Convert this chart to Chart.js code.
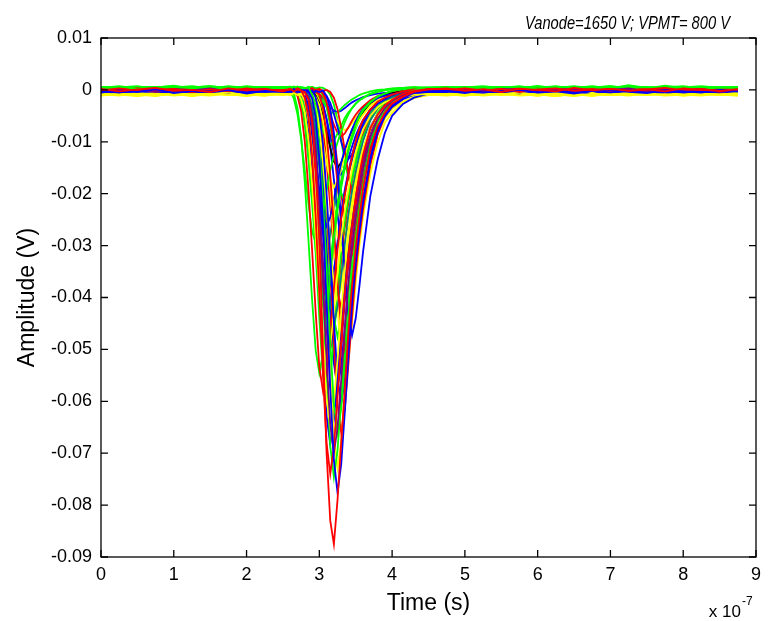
<!DOCTYPE html>
<html>
<head>
<meta charset="utf-8">
<script src="https://cdn.jsdelivr.net/npm/chart.js@4.4.1/dist/chart.umd.min.js"></script>
<style>
  html, body { margin: 0; padding: 0; background: #fff; }
  canvas { display: block; }
</style>
</head>
<body>
<canvas id="c" width="768" height="621"></canvas>
<script>
// Time axis in units of 10^-7 s (shared sampling grid for every trace)
const time = [0,0.25,0.5,0.75,1,1.25,1.5,1.75,2,2.25,2.5,
  2.6,2.65,2.7,2.75,2.8,2.85,2.9,2.95,3,3.05,3.1,3.15,3.2,3.25,3.3,3.35,3.4,3.45,3.5,3.55,3.6,3.7,3.8,3.9,4,4.15,4.3,4.5,
  4.75,5,5.25,5.5,5.75,6,6.25,6.5,6.75,7,7.25,7.5,7.75,8,8.25,8.5,8.75];

const v01 = [.0002,-.0003,.0001,.0004,-.0002,0,-.0004,.0003,-.0001,.0002,-.0003,
  .0002,-.0003,.0001,-.0002,-.0004,-.0018,-.0061,-.0149,-.0289,-.05,-.07,-.083,-.0875,-.079,-.068,-.0578,-.0464,-.0376,-.0306,-.0245,-.0193,-.0114,-.007,-.0044,-.0026,-.0013,-.0004,.0001,
  .0003,-.0002,.0001,-.0004,.0002,0,-.0003,.0004,-.0001,.0002,-.0002,.0001,-.0003,.0003,0,-.0002,.0001];
const v02 = [-.0005,-.0001,-.0004,.0001,-.0006,-.0002,-.0003,0,-.0007,-.0002,-.0004,
  -.0004,.0001,-.0005,-.0002,0,-.0003,-.0016,-.0054,-.0132,-.0256,-.0411,-.0574,-.0714,-.0776,-.0722,-.0621,-.0512,-.0411,-.0334,-.0272,-.0217,-.0132,-.0078,-.005,-.0031,-.0016,-.0006,-.0003,
  -.0002,-.0006,-.0001,-.0004,0,-.0005,-.0003,-.0007,-.0002,.0001,-.0004,-.0006,-.0001,-.0003,-.0005,0,-.0003];
const v03 = [-.0001,.0003,-.0002,0,.0002,-.0004,.0001,-.0002,.0003,-.0001,0,
  .0001,-.0002,.0003,-.0001,-.0015,-.0052,-.0126,-.0244,-.0392,-.0548,-.0681,-.074,-.0688,-.0592,-.0488,-.0392,-.0318,-.0259,-.0207,-.0163,-.0126,-.0074,-.0048,-.003,-.0019,-.0007,-.0002,.0002,
  0,.0003,-.0001,.0002,-.0004,.0001,.0003,-.0002,0,.0002,-.0003,.0001,.0004,-.0001,.0002,-.0002,0];
const v04 = [.0001,-.0002,0,-.0004,.0002,-.0001,.0003,-.0003,0,.0001,-.0002,
  -.0002,.0002,-.0003,0,-.0004,-.0014,-.0049,-.0119,-.0231,-.0371,-.0518,-.0644,-.07,-.0651,-.056,-.0462,-.0371,-.0301,-.0245,-.0196,-.0154,-.0091,-.0056,-.0035,-.0021,-.001,-.0004,-.0001,
  -.0002,.0001,-.0003,.0002,0,-.0004,.0001,.0002,-.0002,0,.0003,-.0003,.0001,-.0001,.0002,-.0004,0];
const v05 = [.0004,.0006,.0002,.0005,.0008,.0003,.0005,.0001,.0006,.0004,.0003,
  .0005,.0003,.0006,.0004,.0002,.0005,-.0009,-.0042,-.0108,-.0214,-.035,-.0488,-.0607,-.066,-.0614,-.0528,-.0436,-.035,-.0284,-.0231,-.0185,-.0108,-.0062,-.0039,-.0022,-.0009,-.0001,.0004,
  .0005,.0003,.0006,.0004,.0007,.0002,.0005,.0004,.0006,.0003,.0009,.0004,.0005,.0002,.0006,.0004,.0005];
const v06 = [-.0008,-.0011,-.0006,-.0009,-.0007,-.0012,-.0008,-.0005,-.001,-.0008,-.0006,
  -.0009,-.0006,-.001,-.0007,-.0021,-.0053,-.0117,-.0219,-.0347,-.0482,-.0597,-.0648,-.0603,-.052,-.043,-.0347,-.0283,-.0232,-.0187,-.0149,-.0117,-.0072,-.005,-.0034,-.0024,-.0014,-.0009,-.0008,
  -.0009,-.0007,-.0011,-.0008,-.0005,-.001,-.0008,-.0012,-.0007,-.0009,-.0006,-.001,-.0008,-.0011,-.0007,-.0009,-.0008];
const v07 = [-.0002,-.0005,0,-.0003,-.0006,-.0001,-.0004,-.0002,-.0005,0,-.0003,
  -.0003,-.0006,0,-.0004,-.0002,-.0005,-.0001,-.0015,-.0045,-.0105,-.0201,-.0321,-.0447,-.0555,-.0603,-.0561,-.0483,-.0399,-.0321,-.0261,-.0213,-.0135,-.0081,-.0051,-.0033,-.0018,-.0009,-.0004,
  -.0004,-.0001,-.0005,-.0002,-.0006,-.0003,0,-.0004,-.0002,-.0005,-.0001,-.0003,-.0006,-.0002,-.0004,-.0001,-.0003];
const v08 = [0,-.0002,.0003,-.0001,.0001,-.0003,.0002,0,-.0002,.0001,.0002,
  -.0001,.0002,-.0012,-.0041,-.0099,-.0191,-.0307,-.0429,-.0534,-.058,-.0539,-.0464,-.0383,-.0307,-.0249,-.0203,-.0162,-.0128,-.0099,-.0075,-.0058,-.0038,-.0023,-.0015,-.0009,-.0003,.0001,-.0002,
  -.0001,.0002,-.0003,0,.0003,-.0002,.0001,-.0001,.0002,-.0004,0,.0002,-.0001,.0001,-.0003,.0002,0];
const v09 = [.0003,.0005,.0007,.0002,.0004,.0006,.0003,.0005,.0002,.0006,.0004,
  .0003,-.0007,-.0035,-.009,-.0178,-.0288,-.0403,-.0502,-.0546,-.0508,-.0436,-.0359,-.0288,-.0233,-.0189,-.015,-.0117,-.009,-.0068,-.0051,-.004,-.0024,-.0013,-.0007,-.0002,.0002,.0005,.0004,
  .0006,.0003,.0005,.0002,.0004,.0007,.0003,.0005,.0004,.0006,.0002,.0005,.0003,.0006,.0004,.0002,.0005];
const v10 = [-.001,-.0007,-.0009,-.0006,-.0011,-.0008,-.0007,-.001,-.0006,-.0009,-.0008,
  -.0007,-.001,-.0006,-.0018,-.0044,-.0096,-.018,-.0284,-.0393,-.0486,-.0528,-.0492,-.0424,-.0351,-.0284,-.0232,-.019,-.0154,-.0122,-.0096,-.0076,-.005,-.0034,-.0024,-.0018,-.0012,-.0009,-.0007,
  -.0006,-.001,-.0008,-.0007,-.0011,-.0009,-.0006,-.0008,-.001,-.0007,-.0009,-.0005,-.0008,-.001,-.0007,-.0009,-.0006];
const v11 = [-.0003,-.0006,-.0002,-.0004,-.0001,-.0005,-.0003,-.0007,-.0002,-.0004,-.0003,
  -.0004,-.0001,-.0006,-.0002,-.0003,0,-.0005,-.0002,-.0004,-.0001,-.0012,-.0036,-.0083,-.0158,-.0252,-.0351,-.0435,-.0473,-.044,-.0379,-.0313,-.0205,-.0135,-.0083,-.005,-.0027,-.0015,-.0007,
  -.0005,-.0003,-.0006,-.0002,-.0004,-.0001,-.0005,-.0003,-.0008,-.0002,-.0004,-.0003,-.0006,-.0001,-.0004,-.0005,-.0002];
const v12 = [-.0002,.0001,.0003,-.0001,0,.0002,-.0003,.0001,-.0001,.0003,0,
  .0001,-.0002,.0002,-.0003,0,-.0001,.0003,-.0002,-.001,-.0035,-.0085,-.0165,-.0265,-.037,-.046,-.05,-.0465,-.04,-.033,-.0265,-.0215,-.014,-.0085,-.005,-.0033,-.0015,-.0008,-.0002,
  .0001,-.0003,.0002,0,-.0002,.0003,-.0001,0,.0002,-.0003,.0001,.0003,-.0002,0,.0001,-.0001,.0002];
const v13 = [0,.0002,-.0002,.0001,-.0003,0,.0002,-.0001,.0001,-.0002,.0001,
  -.0001,.0002,-.0002,.0001,-.0003,-.0009,-.0032,-.0077,-.0149,-.0239,-.0333,-.0414,-.045,-.0419,-.036,-.0297,-.0239,-.0194,-.0158,-.0126,-.0099,-.0059,-.0036,-.0023,-.0014,-.0007,-.0002,0,
  .0002,-.0001,0,.0003,-.0002,.0001,-.0003,0,.0002,-.0001,0,-.0002,.0003,.0001,-.0001,0,.0002];
const v14 = [.0006,.0003,.0005,.0004,.0002,.0006,.0005,.0003,.0007,.0004,.0005,
  .0005,.0003,-.0004,-.0025,-.0067,-.0135,-.0219,-.0307,-.0382,-.0416,-.0387,-.0332,-.0273,-.0219,-.0177,-.0143,-.0114,-.0088,-.0067,-.0051,-.0038,-.0023,-.0013,-.0007,-.0002,.0002,.0004,.0005,
  .0003,.0006,.0004,.0005,.0002,.0006,.0004,.0003,.0005,.0007,.0004,.0002,.0006,.0003,.0005,.0004,.0006];
const v15 = [-.0007,-.0009,-.0012,-.0008,-.0006,-.001,-.0007,-.0009,-.0011,-.0006,-.0008,
  -.0009,-.0006,-.001,-.0007,-.0009,-.0005,-.0016,-.0036,-.0076,-.014,-.022,-.0304,-.0376,-.0408,-.038,-.0328,-.0272,-.022,-.018,-.0148,-.012,-.0076,-.0048,-.0034,-.0024,-.0016,-.0011,-.0008,
  -.0008,-.0011,-.0007,-.0009,-.0006,-.0008,-.0012,-.0007,-.0009,-.0008,-.0011,-.0007,-.0006,-.0009,-.0008,-.001,-.0007];
const v16 = [-.0004,-.0001,-.0005,-.0003,0,-.0004,-.0006,-.0002,-.0003,-.0005,-.0001,
  -.0002,-.0005,-.0001,-.0004,-.001,-.0029,-.0066,-.0125,-.0199,-.0277,-.0343,-.0373,-.0347,-.0299,-.0247,-.0199,-.0162,-.0133,-.0107,-.0084,-.0066,-.004,-.0027,-.0018,-.0012,-.0007,-.0004,-.0003,
  -.0003,-.0005,-.0002,-.0004,-.0007,-.0001,-.0003,-.0005,-.0002,-.0004,-.0003,-.0006,-.0002,-.0005,-.0003,-.0001,-.0004];
const v17 = [.0001,.0003,-.0002,0,.0002,-.0001,-.0003,.0001,.0002,-.0002,0,
  .0002,-.0001,.0003,-.0002,0,.0002,-.0003,.0001,-.0001,-.0007,-.0024,-.0058,-.0112,-.018,-.0252,-.0313,-.034,-.0316,-.0272,-.0224,-.018,-.0119,-.0075,-.0044,-.0027,-.0014,-.0007,-.0002,
  -.0004,-.0001,.0001,-.0002,0,.0002,-.0003,.0001,0,-.0002,.0003,-.0001,0,.0002,-.0002,.0001,-.0001];
const v18 = [.0005,.0002,.0006,.0004,.0003,.0005,.0007,.0004,.0002,.0005,.0003,
  -.0002,-.0017,-.0047,-.0095,-.0155,-.0218,-.0272,-.0296,-.0275,-.0236,-.0194,-.0155,-.0125,-.0101,-.008,-.0062,-.0047,-.0035,-.0026,-.002,-.0016,-.0008,-.0004,-.0001,.0002,.0004,.0005,.0003,
  .0004,.0006,.0003,.0005,.0004,.0002,.0006,.0005,.0003,.0004,.0006,.0003,.0008,.0004,.0005,.0003,.0004];
const v19 = [-.0009,-.0006,-.0008,-.001,-.0007,-.0009,-.0011,-.0006,-.0008,-.0007,-.001,
  -.0007,-.001,-.0006,-.0009,-.0011,-.0007,-.0008,-.0014,-.0029,-.0059,-.0107,-.0167,-.023,-.0284,-.0308,-.0287,-.0248,-.0206,-.0167,-.0137,-.0113,-.0074,-.0047,-.0032,-.0023,-.0016,-.0011,-.0008,
  -.001,-.0007,-.0009,-.0006,-.0008,-.0011,-.0007,-.0009,-.0006,-.001,-.0008,-.0009,-.0007,-.0005,-.0009,-.0008,-.001];
const v20 = [-.0001,-.0004,-.0002,-.0006,-.0003,-.0001,-.0005,-.0002,-.0004,-.0003,-.0005,
  -.0003,-.0006,-.0002,-.0008,-.0021,-.0047,-.0089,-.0141,-.0195,-.0242,-.0263,-.0245,-.0211,-.0175,-.0141,-.0115,-.0094,-.0076,-.006,-.0047,-.0037,-.0024,-.0016,-.0011,-.0008,-.0005,-.0003,-.0004,
  -.0006,-.0002,-.0004,-.0003,-.0001,-.0005,-.0002,-.0004,-.0006,-.0003,-.0002,-.0005,-.0004,-.0007,-.0003,-.0002,-.0004];
const v21 = [-.0003,0,.0002,-.0001,.0003,-.0002,.0001,0,-.0003,.0002,-.0001,
  .0001,-.0002,.0002,0,-.0003,.0001,.0003,-.0001,.0002,-.0002,0,-.0004,-.0015,-.0037,-.0073,-.0117,-.0163,-.0202,-.022,-.0205,-.0176,-.0117,-.0077,-.0048,-.0029,-.0014,-.0007,-.0002,
  0,.0002,-.0002,.0001,-.0003,.0003,0,-.0001,.0002,-.0002,0,.0001,-.0003,.0002,0,.0003,-.0001];
const v22 = [.0004,.0007,.0003,.0005,.0002,.0004,.0006,.0003,.0005,.0004,.0006,
  .0004,.0006,.0003,.0005,.0002,.0006,.0004,.0003,0,-.0011,-.0033,-.0069,-.0113,-.0159,-.0198,-.0216,-.0201,-.0172,-.0141,-.0113,-.0091,-.0058,-.0033,-.0018,-.001,-.0003,.0001,.0004,
  .0005,.0004,.0002,.0006,.0003,.0005,.0004,.0007,.0003,.0005,.0004,.0006,.0002,.0005,.0003,.0006,.0004];
const v23 = [-.0006,-.0009,-.0007,-.0011,-.0008,-.0006,-.0009,-.0008,-.0012,-.0007,-.0009,
  -.0008,-.0011,-.0007,-.001,-.0006,-.0012,-.0021,-.0039,-.0067,-.0103,-.0141,-.0174,-.0188,-.0175,-.0152,-.0127,-.0103,-.0085,-.0071,-.0058,-.0048,-.0031,-.0022,-.0017,-.0013,-.0011,-.0008,-.0009,
  -.0007,-.0009,-.0006,-.0008,-.001,-.0007,-.0009,-.0011,-.0008,-.0006,-.0009,-.0007,-.001,-.0008,-.0006,-.0009,-.0007];
const v24 = [.0001,-.0001,.0002,-.0003,0,.0001,-.0002,.0002,-.0001,0,-.0002,
  -.0002,.0001,-.0001,.0002,-.0003,0,-.0003,-.0011,-.0026,-.005,-.008,-.0111,-.0138,-.015,-.014,-.012,-.0099,-.008,-.0065,-.0053,-.0042,-.0026,-.0015,-.001,-.0006,-.0003,0,.0001,
  .0001,-.0002,0,.0002,-.0001,-.0003,.0001,0,-.0002,.0002,-.0001,0,.0001,-.0002,0,.0001,-.0001];
const v25 = [-.0006,-.0002,-.0004,-.0001,-.0005,-.0003,-.0002,-.0006,-.0001,-.0004,-.0003,
  -.0004,-.0001,-.0005,-.0002,-.0003,-.0006,-.0001,-.0004,-.0002,-.0006,-.0012,-.0025,-.0046,-.0072,-.0099,-.0123,-.0133,-.0124,-.0107,-.0089,-.0072,-.0049,-.0032,-.002,-.0013,-.0008,-.0006,-.0003,
  -.0002,-.0004,-.0006,-.0003,-.0001,-.0005,-.0004,-.0002,-.0006,-.0003,-.0005,-.0002,-.0004,-.0001,-.0006,-.0003,-.0002];
const v26 = [.0003,.0006,.0004,.0002,.0005,.0007,.0003,.0004,.0006,.0002,.0004,
  .0005,.0003,.0006,.0004,.0002,-.0004,-.0015,-.0032,-.0054,-.0077,-.0097,-.0106,-.0098,-.0084,-.0069,-.0054,-.0043,-.0035,-.0027,-.002,-.0015,-.0007,-.0003,0,.0001,.0004,.0005,.0003,
  .0004,.0002,.0005,.0006,.0003,.0004,.0007,.0002,.0005,.0003,.0006,.0004,.0003,.0005,.0007,.0004,.0003];
const v27 = [.0002,-.0001,0,.0003,-.0002,.0001,-.0001,.0002,0,-.0003,.0001,
  .0002,-.0001,.0001,-.0003,.0002,0,-.0002,-.0004,-.0008,-.0015,-.003,-.0048,-.0067,-.0083,-.009,-.0084,-.0072,-.0059,-.0048,-.0039,-.0032,-.002,-.0012,-.0007,-.0005,-.0002,.0001,-.0001,
  -.0002,0,.0003,-.0001,.0001,-.0002,.0002,0,-.0003,.0001,.0002,-.0001,0,-.0002,.0003,-.0001,0];
const v28 = [-.0011,-.0008,-.0006,-.0009,-.0007,-.001,-.0008,-.0006,-.0009,-.0011,-.0007,
  -.0009,-.0007,-.001,-.0006,-.0008,-.0011,-.0007,-.0009,-.0009,-.0013,-.002,-.0031,-.0045,-.006,-.0072,-.0078,-.0073,-.0064,-.0054,-.0045,-.0038,-.0028,-.002,-.0015,-.0013,-.001,-.0008,-.0009,
  -.0008,-.0006,-.001,-.0007,-.0009,-.0008,-.0011,-.0006,-.0008,-.0009,-.0007,-.001,-.0006,-.0009,-.0011,-.0007,-.0008];
const v29 = [.0005,.0003,.0006,.0004,.0002,.0005,.0003,.0006,.0004,.0005,.0003,
  .0004,.0006,.0003,.0005,.0004,.0003,0,-.0005,-.0013,-.0023,-.0033,-.0042,-.0046,-.0043,-.0036,-.0029,-.0023,-.0018,-.0014,-.001,-.0007,-.0003,0,.0001,.0003,.0004,.0005,.0004,
  .0003,.0005,.0004,.0006,.0002,.0004,.0005,.0003,.0006,.0004,.0002,.0005,.0004,.0006,.0003,.0005,.0004];
const v30 = [-.0002,-.0005,-.0003,-.0001,-.0004,-.0006,-.0002,-.0003,-.0005,-.0001,-.0004,
  -.0003,-.0005,-.0002,-.0004,-.0001,-.0003,-.0004,-.0006,-.001,-.0016,-.0024,-.0033,-.004,-.0043,-.004,-.0035,-.0029,-.0024,-.002,-.0017,-.0014,-.001,-.0007,-.0006,-.0005,-.0004,-.0003,-.0003,
  -.0004,-.0002,-.0005,-.0001,-.0003,-.0006,-.0002,-.0004,-.0003,-.0005,-.0002,-.0004,-.0006,-.0001,-.0003,-.0005,-.0002];
const v31 = [.0004,.0006,.0003,.0005,.0007,.0002,.0004,.0006,.0003,.0005,.0004,
  .0005,.0002,.0006,.0003,.0004,-.0011,-.0049,-.0124,-.0244,-.0394,-.0551,-.0686,-.0746,-.0694,-.0596,-.0491,-.0394,-.0319,-.0259,-.0206,-.0161,-.0094,-.0056,-.0034,-.0019,-.0007,0,.0004,
  .0006,.0004,.0002,.0005,.0003,.0007,.0004,.0005,.0002,.0006,.0004,.0003,.0005,.0007,.0003,.0004,.0006];
const v32 = [-.001,-.0007,-.0009,-.0012,-.0006,-.0008,-.001,-.0007,-.0011,-.0008,-.0009,
  -.0007,-.001,-.0006,-.0009,-.0008,-.0011,-.0022,-.0058,-.013,-.0246,-.039,-.0541,-.067,-.0728,-.0678,-.0584,-.0483,-.039,-.0318,-.026,-.021,-.013,-.008,-.0055,-.0037,-.0022,-.0014,-.0009,
  -.0011,-.0008,-.0006,-.001,-.0007,-.0009,-.0012,-.0008,-.0006,-.001,-.0008,-.0007,-.0011,-.0009,-.0006,-.0008,-.001];
const v33 = [-.0005,-.0002,-.0006,-.0003,-.0001,-.0004,-.0007,-.0002,-.0004,-.0005,-.0001,
  -.0005,-.0001,-.0004,-.0002,-.0017,-.0051,-.0119,-.0227,-.0363,-.0506,-.0629,-.0683,-.0635,-.0547,-.0452,-.0363,-.0295,-.0241,-.0193,-.0153,-.0119,-.0071,-.0047,-.003,-.002,-.001,-.0005,-.0003,
  -.0003,-.0006,-.0002,-.0005,-.0001,-.0004,-.0006,-.0003,-.0002,-.0007,-.0003,-.0001,-.0005,-.0002,-.0004,-.0006,-.0003];
const v34 = [-.0002,.0002,0,-.0003,.0001,.0003,-.0001,0,.0002,-.0002,.0001,
  .0001,-.0002,.0002,-.0001,0,.0003,-.0002,-.0013,-.0046,-.0112,-.0218,-.035,-.0488,-.0607,-.066,-.0614,-.0528,-.0436,-.035,-.0284,-.0231,-.0145,-.0086,-.0053,-.0033,-.0017,-.0007,-.0001,
  .0002,-.0001,0,-.0003,.0002,.0001,-.0002,.0003,-.0001,0,.0002,-.0002,.0001,-.0003,0,.0002,-.0001];
const v35 = [0,-.0002,.0002,-.0001,.0001,-.0003,0,.0002,-.0002,.0001,0,
  -.0001,.0002,-.0002,.0001,-.0003,-.0012,-.0043,-.0105,-.0205,-.0329,-.0459,-.057,-.062,-.0577,-.0496,-.0409,-.0329,-.0267,-.0217,-.0174,-.0136,-.0081,-.005,-.0031,-.0019,-.0009,-.0003,.0001,
  -.0001,.0002,-.0002,0,.0001,-.0003,.0002,-.0001,0,.0003,-.0002,.0001,-.0001,0,.0002,-.0002,0];
const v36 = [.0003,.0005,.0002,.0006,.0004,.0005,.0003,.0007,.0004,.0002,.0005,
  .0005,.0003,.0006,-.0008,-.0038,-.0098,-.0194,-.0314,-.044,-.0548,-.0596,-.0554,-.0476,-.0392,-.0314,-.0254,-.0206,-.0164,-.0128,-.0098,-.0074,-.0044,-.0026,-.0014,-.0008,-.0001,.0003,.0004,
  .0005,.0003,.0006,.0002,.0004,.0005,.0003,.0006,.0004,.0007,.0002,.0004,.0005,.0003,.0006,.0004,.0002];
const v37 = [-.0003,-.0001,-.0005,-.0002,-.0006,-.0003,-.0004,-.0001,-.0005,-.0003,-.0002,
  -.0002,-.0005,-.0001,-.0004,-.0003,-.0006,-.0014,-.0043,-.01,-.0191,-.0305,-.0425,-.0527,-.0573,-.0533,-.0459,-.0379,-.0305,-.0248,-.0203,-.0163,-.01,-.006,-.004,-.0026,-.0014,-.0008,-.0004,
  -.0005,-.0002,-.0004,-.0006,-.0003,-.0001,-.0004,-.0005,-.0002,-.0003,-.0006,-.0004,-.0002,-.0005,-.0001,-.0003,-.0004];
const v38 = [-.0008,-.0006,-.001,-.0009,-.0007,-.0011,-.0008,-.0006,-.0009,-.001,-.0007,
  -.0009,-.0006,-.001,-.0007,-.0009,-.0006,-.0011,-.0008,-.0019,-.0047,-.0102,-.019,-.03,-.0415,-.0514,-.0558,-.052,-.0448,-.0371,-.03,-.0245,-.0162,-.0102,-.0063,-.0044,-.0025,-.0016,-.001,
  -.0009,-.0011,-.0007,-.0008,-.001,-.0006,-.0009,-.0008,-.0012,-.0007,-.0009,-.0006,-.0008,-.001,-.0007,-.0009,-.0011];
const v39 = [.0001,-.0003,.0002,0,-.0001,.0003,-.0002,.0001,0,-.0003,.0002,
  .0002,-.0001,.0001,-.0003,-.001,-.0035,-.0085,-.0165,-.0265,-.037,-.046,-.05,-.0465,-.04,-.033,-.0265,-.0215,-.0175,-.014,-.011,-.0085,-.005,-.0033,-.002,-.0013,-.0005,-.0002,.0001,
  0,-.0002,.0003,-.0001,.0001,0,-.0003,.0002,-.0001,.0001,-.0002,.0003,0,-.0001,.0002,-.0003,.0001];
const v40 = [.0005,.0003,.0006,.0004,.0002,.0005,.0007,.0003,.0004,.0006,.0003,
  .0004,.0006,.0003,.0005,.0002,.0005,-.0006,-.003,-.0078,-.0154,-.025,-.0351,-.0438,-.0476,-.0442,-.038,-.0313,-.025,-.0202,-.0164,-.013,-.0078,-.0044,-.0027,-.0015,-.0006,0,.0003,
  .0004,.0006,.0003,.0005,.0004,.0002,.0006,.0004,.0005,.0003,.0007,.0004,.0002,.0005,.0006,.0003,.0004];
const v41 = [-.0002,-.0004,-.0001,-.0005,-.0003,-.0006,-.0002,-.0004,-.0003,-.0001,-.0005,
  -.0004,-.0001,-.0005,-.0012,-.0034,-.0078,-.0148,-.0236,-.0329,-.0408,-.0443,-.0412,-.0355,-.0293,-.0236,-.0192,-.0157,-.0126,-.01,-.0078,-.006,-.0038,-.0025,-.0016,-.0012,-.0007,-.0004,-.0003,
  -.0004,-.0002,-.0005,-.0003,-.0006,-.0002,-.0001,-.0004,-.0003,-.0005,-.0002,-.0006,-.0003,-.0004,-.0002,-.0005,-.0003];
const v42 = [.0003,0,-.0002,.0001,-.0001,.0002,0,-.0003,.0001,.0002,-.0001,
  0,.0002,-.0002,.0001,-.0001,.0003,-.0002,-.0008,-.0029,-.0071,-.0139,-.0223,-.0311,-.0386,-.042,-.0391,-.0336,-.0277,-.0223,-.0181,-.0147,-.0092,-.0055,-.0034,-.0021,-.0011,-.0004,.0001,
  -.0001,.0001,-.0002,.0002,0,-.0003,.0001,.0002,-.0001,0,-.0002,.0001,.0003,-.0001,0,.0002,-.0002];
const v43 = [-.0007,-.001,-.0008,-.0006,-.0009,-.0011,-.0007,-.0008,-.001,-.0006,-.0009,
  -.0008,-.0011,-.0006,-.0009,-.0007,-.0016,-.0035,-.0073,-.0133,-.0209,-.0289,-.0358,-.0388,-.0361,-.0312,-.0259,-.0209,-.0171,-.0141,-.0114,-.0092,-.0057,-.0038,-.0027,-.0019,-.0014,-.001,-.0008,
  -.0007,-.0009,-.001,-.0006,-.0008,-.0011,-.0007,-.0009,-.0008,-.0006,-.001,-.0008,-.0007,-.0011,-.0009,-.0006,-.0008];
const v44 = [-.0001,.0001,-.0002,.0002,0,-.0001,.0002,-.0003,.0001,0,.0002,
  .0001,-.0002,-.0007,-.0025,-.006,-.0116,-.0186,-.0259,-.0322,-.035,-.0326,-.028,-.0231,-.0186,-.0151,-.0123,-.0098,-.0077,-.006,-.0046,-.0035,-.0023,-.0014,-.0009,-.0005,-.0002,.0001,-.0001,
  .0001,-.0002,.0002,0,-.0001,.0001,-.0003,.0002,0,-.0002,.0001,0,.0002,-.0001,.0001,-.0002,0];
const v45 = [-.0004,-.0002,-.0005,-.0003,-.0001,-.0006,-.0003,-.0002,-.0004,-.0005,-.0002,
  -.0003,-.0006,-.0002,-.0004,-.0001,-.0005,-.0003,-.0002,-.0009,-.0025,-.0057,-.0109,-.0173,-.024,-.0297,-.0323,-.0301,-.0259,-.0214,-.0173,-.0141,-.0093,-.0057,-.0035,-.0024,-.0013,-.0008,-.0004,
  -.0002,-.0005,-.0003,-.0001,-.0004,-.0006,-.0003,-.0002,-.0005,-.0004,-.0001,-.0003,-.0006,-.0002,-.0004,-.0003,-.0005];
const v46 = [.0002,.0005,.0004,.0006,.0003,.0005,.0002,.0004,.0006,.0003,.0005,
  .0006,.0003,.0005,.0002,-.0002,-.0016,-.0044,-.0088,-.0144,-.0203,-.0254,-.0276,-.0256,-.022,-.0181,-.0144,-.0116,-.0094,-.0074,-.0058,-.0044,-.0024,-.0014,-.0007,-.0003,.0001,.0003,.0005,
  .0003,.0005,.0007,.0004,.0002,.0005,.0003,.0006,.0004,.0002,.0005,.0004,.0006,.0003,.0005,.0002,.0004];
const v47 = [0,.0002,-.0001,.0001,-.0003,.0002,0,-.0002,.0003,-.0001,.0001,
  -.0001,.0002,0,-.0003,.0001,-.0002,.0003,0,-.0001,-.0005,-.0019,-.0046,-.0089,-.0143,-.02,-.0248,-.027,-.0251,-.0216,-.0178,-.0143,-.0095,-.0059,-.0035,-.0022,-.0011,-.0005,-.0001,
  .0001,-.0003,.0002,0,-.0002,.0001,.0003,-.0001,0,-.0002,.0002,-.0001,.0001,0,-.0003,.0002,0];
const v48 = [-.0009,-.0007,-.0011,-.0008,-.0006,-.001,-.0008,-.0007,-.0009,-.0011,-.0006,
  -.0009,-.0007,-.001,-.0006,-.0008,-.0011,-.0013,-.0025,-.0049,-.0087,-.0135,-.0186,-.0229,-.0248,-.0231,-.02,-.0166,-.0135,-.0111,-.0092,-.0075,-.0049,-.0032,-.0024,-.0018,-.0013,-.001,-.0008,
  -.0008,-.001,-.0006,-.0009,-.0007,-.0011,-.0008,-.0006,-.0009,-.001,-.0007,-.0008,-.0006,-.001,-.0009,-.0007,-.0011];
const v49 = [.0006,.0004,.0002,.0005,.0003,.0006,.0004,.0005,.0002,.0004,.0006,
  .0004,.0006,.0003,.0005,.0004,.0002,.0006,.0003,.0005,.0004,0,-.0009,-.0028,-.0059,-.0097,-.0137,-.0171,-.0186,-.0173,-.0148,-.0121,-.0078,-.0049,-.0028,-.0015,-.0006,-.0001,.0002,
  .0003,.0005,.0004,.0002,.0006,.0003,.0005,.0004,.0007,.0003,.0005,.0002,.0004,.0006,.0003,.0005,.0004];
const v50 = [-.0001,-.0004,-.0006,-.0002,-.0003,-.0005,-.0001,-.0004,-.0002,-.0006,-.0003,
  -.0004,-.0002,-.0005,-.0001,-.0003,-.0006,-.0002,-.0006,-.0014,-.003,-.0056,-.0088,-.0121,-.015,-.0163,-.0152,-.0131,-.0109,-.0088,-.0072,-.0059,-.0038,-.0024,-.0016,-.0011,-.0007,-.0005,-.0003,
  -.0003,-.0005,-.0001,-.0004,-.0002,-.0006,-.0003,-.0004,-.0001,-.0005,-.0003,-.0002,-.0006,-.0004,-.0003,-.0005,-.0002];

const traces = [v01,v02,v03,v04,v05,v06,v07,v08,v09,v10,v11,v12,v13,v14,v15,v16,v17,v18,v19,v20,v21,v22,v23,v24,v25,
  v26,v27,v28,v29,v30,v31,v32,v33,v34,v35,v36,v37,v38,v39,v40,v41,v42,v43,v44,v45,v46,v47,v48,v49,v50];
const traceColors = ['#ff0000','#0000ff','#ff0000','#800080','#00ff00','#ffff00','#0000ff','#ff0000','#00ff00','#ffff00',
  '#0000ff','#ff0000','#008080','#00ff00','#ffff00','#0000ff','#ff0000','#00ff00','#ffff00','#0000ff',
  '#ff0000','#00ff00','#ffff00','#000000','#0000ff','#00ff00','#ff0000','#ffff00','#00ff00','#0000ff',
  '#00ff00','#ffff00','#0000ff','#ff0000','#800080','#00ff00','#0000ff','#ffff00','#ff0000','#00ff00',
  '#0000ff','#ff0000','#ffff00','#008080','#0000ff','#00ff00','#ff0000','#ffff00','#00ff00','#0000ff'];

const xTicks = [0,1,2,3,4,5,6,7,8,9];
const xTickLabels = ['0','1','2','3','4','5','6','7','8','9'];
const yTicks = [0.01,0,-0.01,-0.02,-0.03,-0.04,-0.05,-0.06,-0.07,-0.08,-0.09];
const yTickLabels = ['0.01','0','-0.01','-0.02','-0.03','-0.04','-0.05','-0.06','-0.07','-0.08','-0.09'];
const titleText = 'Vanode=1650 V; VPMT= 800 V';
const xTitle = 'Time (s)';
const yTitle = 'Amplitude (V)';
const xMultiplierBase = 'x 10';
const xMultiplierExp = '-7';

const FONT = '"Liberation Sans", Arial, Helvetica, sans-serif';

const datasets = traces.map((vals, k) => ({
  data: time.slice(0, vals.length).map((t, i) => ({ x: t, y: vals[i] })),
  borderColor: traceColors[k],
  backgroundColor: traceColors[k],
  borderWidth: 1.8,
  pointRadius: 0,
  fill: false,
  tension: 0
}));

const boxPlugin = {
  id: 'matlabBox',
  afterDatasetsDraw(chart) {
    const { ctx, chartArea: a, scales } = chart;
    const x = scales.x, y = scales.y;
    ctx.save();
    ctx.strokeStyle = '#000';
    ctx.lineWidth = 1.3;
    ctx.strokeRect(a.left, a.top, a.right - a.left, a.bottom - a.top);
    const L = 7;
    ctx.beginPath();
    x.ticks.forEach(t => {
      const p = x.getPixelForValue(t.value);
      ctx.moveTo(p, a.bottom); ctx.lineTo(p, a.bottom - L);
      ctx.moveTo(p, a.top); ctx.lineTo(p, a.top + L);
    });
    y.ticks.forEach(t => {
      const p = y.getPixelForValue(t.value);
      ctx.moveTo(a.left, p); ctx.lineTo(a.left + L, p);
      ctx.moveTo(a.right, p); ctx.lineTo(a.right - L, p);
    });
    ctx.stroke();

    // title: condensed italic, right part of the top margin
    ctx.fillStyle = '#000';
    ctx.textBaseline = 'alphabetic';
    ctx.font = 'italic 19px ' + FONT;
    const w = ctx.measureText(titleText).width;
    const targetW = 205;
    const sx = Math.min(1, targetW / w);
    ctx.save();
    ctx.translate(a.right - 26, 29);
    ctx.scale(sx, 1);
    ctx.textAlign = 'right';
    ctx.fillText(titleText, 0, 0);
    ctx.restore();

    ctx.font = '17px ' + FONT;
    ctx.textAlign = 'right';
    ctx.fillText(xMultiplierBase, a.right - 15, 617);
    ctx.font = '12px ' + FONT;
    ctx.textAlign = 'left';
    ctx.fillText(xMultiplierExp, a.right - 14, 605);
    ctx.restore();
  }
};

new Chart(document.getElementById('c'), {
  type: 'line',
  data: { datasets },
  options: {
    responsive: false,
    animation: false,
    events: [],
    layout: { padding: { top: 38, right: 10, left: 0, bottom: 0 } },
    plugins: { legend: { display: false }, tooltip: { enabled: false }, title: { display: false } },
    scales: {
      x: {
        type: 'linear', min: 0, max: 9,
        afterBuildTicks: s => { s.ticks = xTicks.map(v => ({ value: v })); },
        afterFit: s => { s.height = 64; },
        ticks: { color: '#000', font: { family: FONT, size: 18 }, padding: 7, maxRotation: 0, autoSkip: false,
          callback: v => xTickLabels[xTicks.indexOf(v)] },
        grid: { display: false, drawTicks: false },
        border: { display: false },
        title: { display: true, text: xTitle, color: '#000', font: { family: FONT, size: 23 }, padding: { top: 0, bottom: 4 } }
      },
      y: {
        type: 'linear', min: -0.09, max: 0.01,
        afterBuildTicks: s => { s.ticks = yTicks.map(v => ({ value: v })); },
        afterFit: s => { s.width = 101; },
        ticks: { color: '#000', font: { family: FONT, size: 18 }, padding: 9, autoSkip: false,
          callback: v => { const i = yTicks.findIndex(t => Math.abs(t - v) < 1e-9); return i >= 0 ? yTickLabels[i] : ''; } },
        grid: { display: false, drawTicks: false },
        border: { display: false },
        title: { display: true, text: yTitle, color: '#000', font: { family: FONT, size: 23 }, padding: { top: 14, bottom: 0 } }
      }
    }
  },
  plugins: [boxPlugin]
});
</script>
</body>
</html>
